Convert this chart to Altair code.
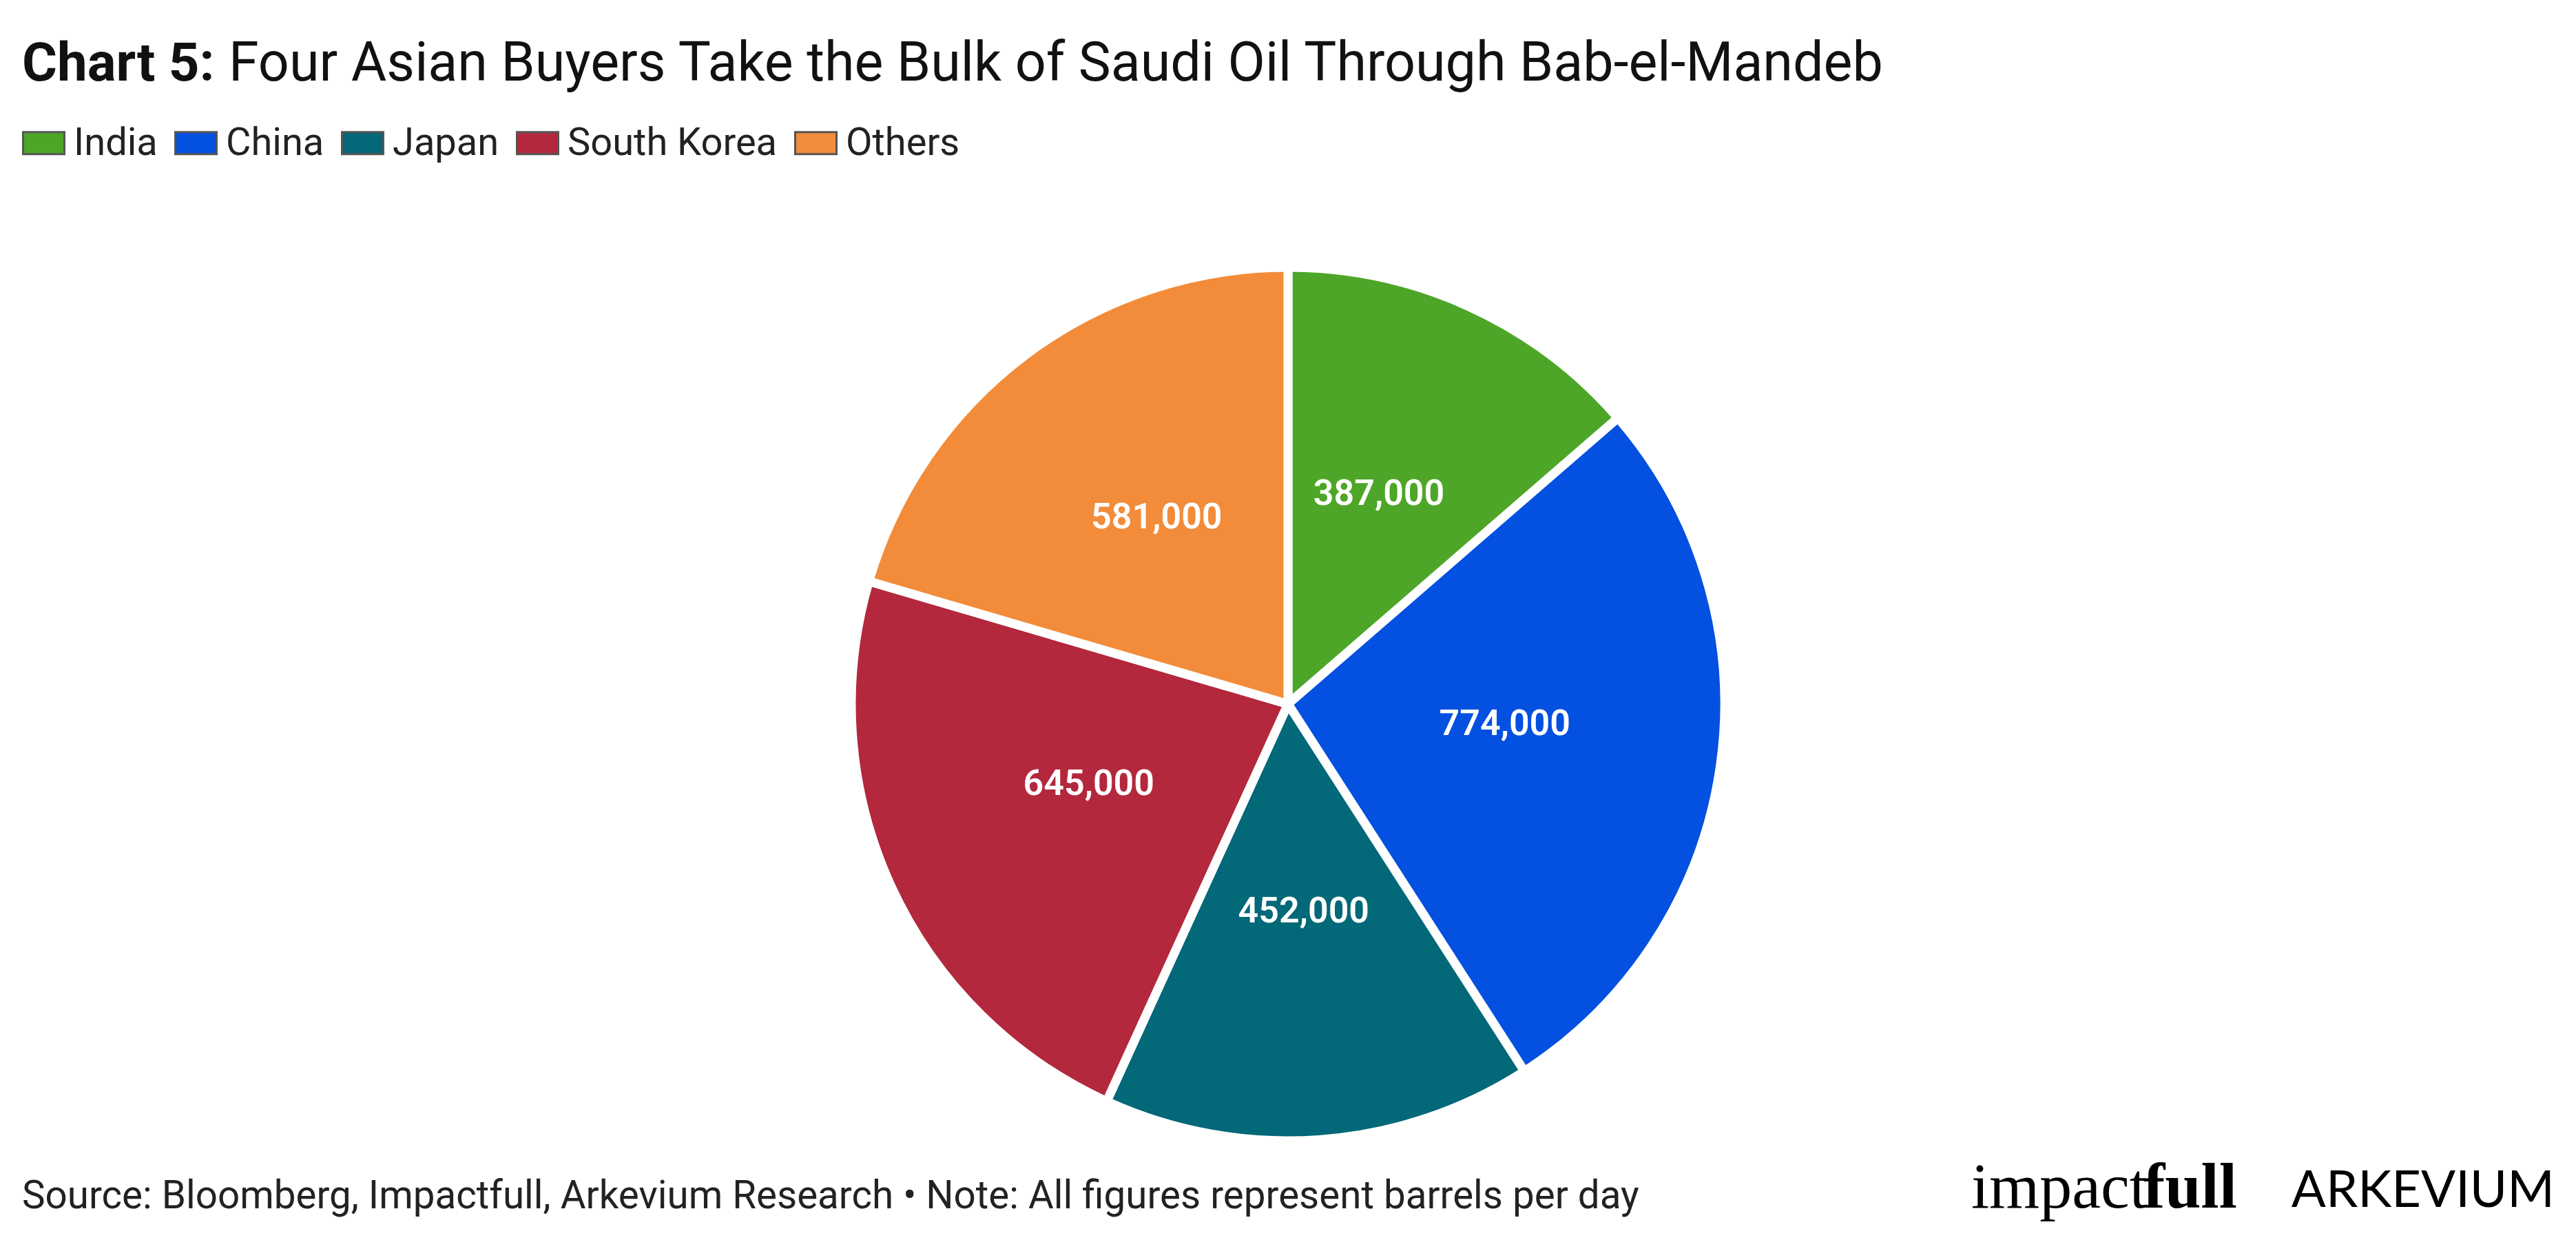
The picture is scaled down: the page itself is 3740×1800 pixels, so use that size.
import altair as alt
import pandas as pd

countries = ["India", "China", "Japan", "South Korea", "Others"]
barrels = [387000, 774000, 452000, 645000, 581000]
colors = ["#4EA628", "#0450E0", "#036878", "#B3283D", "#F28C3A"]

title_bold = "Chart 5:"
title_rest = "Four Asian Buyers Take the Bulk of Saudi Oil Through Bab-el-Mandeb"
source_text = "Source: Bloomberg, Impactfull, Arkevium Research \u2022 Note: All figures represent barrels per day"

df = pd.DataFrame({"country": countries, "value": barrels, "order": list(range(len(countries)))})

FONT = "Roboto"
W, H, PAD_TOP = 3724, 1540, 244

base = alt.Chart(df).encode(
    theta=alt.Theta("value:Q", stack=True),
    order=alt.Order("order:Q"),
)

pie = base.mark_arc(outerRadius=634, stroke="white", strokeWidth=13, cornerRadius=4).encode(
    color=alt.Color(
        "country:N",
        scale=alt.Scale(domain=countries, range=colors),
        sort=countries,
        legend=alt.Legend(
            title=None,
            orient="none",
            legendX=24,
            legendY=-76,
            direction="horizontal",
            columns=5,
            labelFont=FONT,
            labelFontSize=56,
            labelLimit=1000,
            labelColor="#222222",
            labelOffset=12,
            columnPadding=19,
            symbolType="M-1,-0.53H1V0.53H-1Z",
            symbolSize=3600,
            symbolStrokeColor="#555555",
            symbolStrokeWidth=3,
            symbolOpacity=1,
        ),
    )
)

labels = base.mark_text(radius=318, font=FONT, fontSize=52, fontWeight=600, color="white",
                        baseline="alphabetic").encode(
    text=alt.Text("value:Q", format=",.0f")
)

def label(txt, x, y, size, weight="normal", font=FONT, color="#111111", align="left"):
    return alt.Chart(alt.Data(values=[{}])).mark_text(
        text=txt, font=font, fontSize=size, fontWeight=weight, color=color,
        align=align, baseline="alphabetic",
    ).encode(x=alt.value(x), y=alt.value(y))

t1 = label(title_bold, 24, -135, 78, weight="bold")
t2 = label(title_rest, 324, -135, 79)
src = label(source_text, 24, 1502, 56.5, color="#222222")
logo1 = label("impact", 2854, 1501, 94, font="Liberation Serif", color="#000000")
logo2 = label("full", 3104, 1501, 94, weight="bold", font="Liberation Serif", color="#000000")
logo3 = label("ARKEVIUM", 3701, 1500, 74, weight="normal", font="Lato", color="#000000", align="right")

chart = alt.layer(pie, labels, t1, t2, src, logo1, logo2, logo3).properties(
    width=W,
    height=H,
    autosize=alt.AutoSizeParams(type="none"),
    padding={"top": PAD_TOP, "left": 0, "right": 0, "bottom": 0},
    background="white",
).configure_view(stroke=None)

chart.save("out.html", embed_options={"renderer": "svg", "actions": False})
